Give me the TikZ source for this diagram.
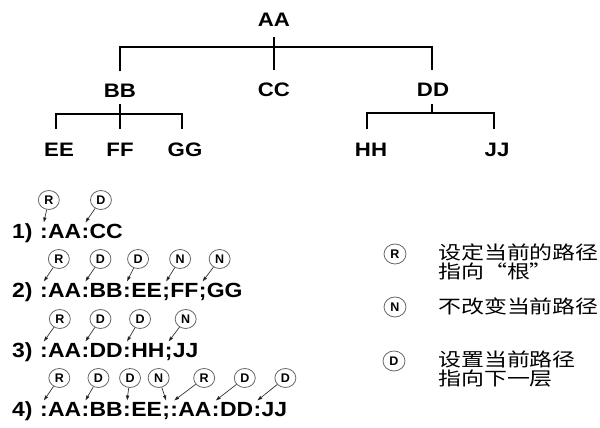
\documentclass[tikz,border=0pt]{standalone}
\usepackage{fontspec}
\usetikzlibrary{shapes.geometric,arrows.meta,calc}
\newfontfamily\trfont[FakeStretch=1.14]{Liberation Sans}
\newfontfamily\rwfont[FakeStretch=1.12]{Liberation Sans}
\newfontfamily\bbfont{Liberation Sans}
\newfontfamily\cjk[FakeStretch=1.24]{Noto Sans CJK SC}
\newcommand\tk[3]{\node[tok] (#1) at (#2.base east) {#3};}
% bubble #1 name, #2 separator node, #3 x offset, #4 y, #5 letter
\newcommand\bbl[5]{%
  \path let \p1=(#2.north) in node[bub] (#1) at (\x1+#3pt,#4pt) {#5};
  \draw[ptr] (#1) -- ([yshift=6pt]#2.north);}
\begin{document}
\begin{tikzpicture}[x=1pt,y=1pt,
 tree/.style={inner sep=0pt,text height=14pt,text depth=0pt,font=\trfont\bfseries\fontsize{19.5}{22}\selectfont},
 edge/.style={line width=2pt},
 tok/.style={inner sep=0pt,anchor=base west,font=\rwfont\bfseries\fontsize{20.5}{23}\selectfont},
 bub/.style={ellipse,draw=black!60,line width=0.8pt,minimum width=21pt,minimum height=19pt,inner sep=0pt,font=\bbfont\bfseries\fontsize{12.5}{12.5}\selectfont},
 ptr/.style={line width=0.7pt,draw=black!80,-{Triangle[length=5pt,width=3.2pt,fill=black]}},
 leg/.style={bub,minimum width=22pt,minimum height=20pt,font=\bbfont\bfseries\fontsize{12.5}{12.5}\selectfont},
 lt/.style={inner sep=0pt,anchor=base west,font=\cjk\fontsize{18.5}{20}\selectfont}]
\fill[white] (0,0) rectangle (600,428);
\useasboundingbox (0,0) rectangle (600,428);

% ---------- tree ----------
\node[tree] (AA) at (274,408.3) {AA};
\node[tree] (BB) at (120,337) {BB};
\node[tree] (CC) at (274,338) {CC};
\node[tree] (DD) at (433,338) {DD};
\node[tree] (EE) at (59,278) {EE};
\node[tree] (FF) at (120,278) {FF};
\node[tree] (GG) at (185,278) {GG};
\node[tree] (HH) at (371,278) {HH};
\node[tree] (JJ) at (497,278) {JJ};

\draw[edge] ([yshift=12.3pt]BB.north) |- ([yshift=35.3pt]CC.north) -| ([xshift=-1pt,yshift=12.3pt]DD.north);
\draw[edge] ([yshift=-10pt]AA.south) -- ([yshift=13pt]CC.north);
\draw[edge] ([yshift=-6pt]BB.south) -- ([yshift=13.7pt]FF.north);
\draw[edge] ([xshift=-3pt,yshift=13.7pt]EE.north) |- ([yshift=28.7pt]FF.north) -| ([xshift=-3pt,yshift=13.7pt]GG.north);
\coordinate (ddbar) at ([xshift=-1pt,yshift=-16pt]DD.south);
\draw[edge] ([xshift=-1pt,yshift=-7pt]DD.south) -- (ddbar);
\draw[edge] ([xshift=-4pt,yshift=13.7pt]HH.north) |- (ddbar) -| ([xshift=-3pt,yshift=13.7pt]JJ.north);

% ---------- row 1 ----------
\node[tok] (r1n) at (12,189) {1)};
\node[tok] (r1s1) at ([xshift=7pt]r1n.base east) {:};
\tk{r1a}{r1s1}{AA}\tk{r1s2}{r1a}{:}\tk{r1b}{r1s2}{CC}
\bbl{b11}{r1s1}{5}{228}{R}
\bbl{b12}{r1s2}{15.5}{228}{D}

% ---------- row 2 ----------
\node[tok] (r2n) at (12,130) {2)};
\node[tok] (r2s1) at ([xshift=7pt]r2n.base east) {:};
\tk{r2a}{r2s1}{AA}\tk{r2s2}{r2a}{:}\tk{r2b}{r2s2}{BB}\tk{r2s3}{r2b}{:}
\tk{r2c}{r2s3}{EE}\tk{r2s4}{r2c}{;}\tk{r2d}{r2s4}{FF}\tk{r2s5}{r2d}{;}\tk{r2e}{r2s5}{GG}
\bbl{b21}{r2s1}{15}{169}{R}
\bbl{b22}{r2s2}{15}{169}{D}
\bbl{b23}{r2s3}{11}{169}{D}
\bbl{b24}{r2s4}{14}{169}{N}
\bbl{b25}{r2s5}{17}{169}{N}

% ---------- row 3 ----------
\node[tok] (r3n) at (12,70) {3)};
\node[tok] (r3s1) at ([xshift=7pt]r3n.base east) {:};
\tk{r3a}{r3s1}{AA}\tk{r3s2}{r3a}{:}\tk{r3b}{r3s2}{DD}\tk{r3s3}{r3b}{:}
\tk{r3c}{r3s3}{HH}\tk{r3s4}{r3c}{;}\tk{r3d}{r3s4}{JJ}
\bbl{b31}{r3s1}{16}{109}{R}
\bbl{b32}{r3s2}{15}{109}{D}
\bbl{b33}{r3s3}{13}{109}{D}
\bbl{b34}{r3s4}{17}{109}{N}

% ---------- row 4 ----------
\node[tok] (r4n) at (12,11) {4)};
\node[tok] (r4s1) at ([xshift=7pt]r4n.base east) {:};
\tk{r4a}{r4s1}{AA}\tk{r4s2}{r4a}{:}\tk{r4b}{r4s2}{BB}\tk{r4s3}{r4b}{:}
\tk{r4c}{r4s3}{EE}\tk{r4s4}{r4c}{;}\tk{r4s5}{r4s4}{:}\tk{r4d}{r4s5}{AA}
\tk{r4s6}{r4d}{:}\tk{r4e}{r4s6}{DD}\tk{r4s7}{r4e}{:}\tk{r4f}{r4s7}{JJ}
\bbl{b41}{r4s1}{15.5}{50}{R}
\bbl{b42}{r4s2}{13}{50}{D}
\bbl{b43}{r4s3}{3}{50}{D}
\bbl{b44}{r4s4}{-7.5}{50}{N}
\bbl{b45}{r4s5}{30}{50}{R}
\bbl{b46}{r4s6}{29}{50}{D}
\bbl{b47}{r4s7}{28}{50}{D}

% ---------- legend ----------
\node[leg] (lR) at (395,174) {R};
\node[lt] (lR1) at (438,168.3) {设定当前的路径};
\node[lt] (lR2) at (438,149.6) {指向“根”};
\node[leg] (lN) at (395,121) {N};
\node[lt] (lN1) at (438,114.6) {不改变当前路径};
\node[leg] (lD) at (394,67) {D};
\node[lt] (lD1) at (438,61.3) {设置当前路径};
\node[lt] (lD2) at (438,42.6) {指向下一层};
\end{tikzpicture}
\end{document}
